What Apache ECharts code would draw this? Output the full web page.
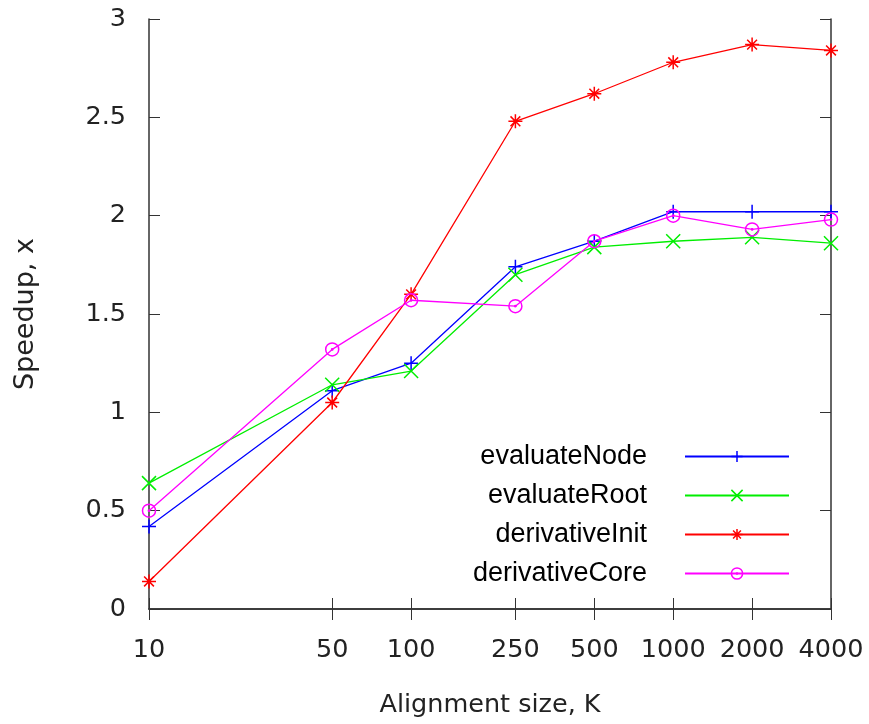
<!DOCTYPE html>
<html>
<head>
<meta charset="utf-8">
<script src="https://cdn.jsdelivr.net/npm/echarts@6/dist/echarts.min.js"></script>
<style>
  html, body { margin: 0; padding: 0; background: #fff; }
  #speedupChart { width: 869px; height: 724px; }
</style>
</head>
<body>
<div id="speedupChart"></div>
<script>
(function () {
  'use strict';

  // alignment sizes, K
  var sizes = [10, 50, 100, 250, 500, 1000, 2000, 4000];
  var yTicks = [0, 0.5, 1, 1.5, 2, 2.5, 3];

  var evaluateNode   = [0.42, 1.11, 1.25, 1.74, 1.87, 2.02, 2.02, 2.02];
  var evaluateRoot   = [0.64, 1.14, 1.21, 1.70, 1.84, 1.87, 1.89, 1.86];
  var derivativeInit = [0.14, 1.05, 1.60, 2.48, 2.62, 2.78, 2.87, 2.84];
  var derivativeCore = [0.50, 1.32, 1.57, 1.54, 1.87, 2.00, 1.93, 1.98];

  var FONT = 'DejaVu Sans';
  var AXIS_COLOR = '#333';

  // gnuplot style point types
  var PT_PLUS = 'path://M0,6H12M6,0V12';
  var PT_CROSS = 'path://M0,0L12,12M12,0L0,12';
  var PT_STAR = 'path://M0,6H12M6,0V12M1.8,1.8L10.2,10.2M10.2,1.8L1.8,10.2';
  var PT_CIRCLE = 'path://M12,6A6,6,0,1,1,0,6A6,6,0,1,1,12,6ZM6.6,6A0.6,0.6,0,1,1,5.4,6A0.6,0.6,0,1,1,6.6,6Z';

  function pairs(values) {
    return sizes.map(function (s, i) { return [s, values[i]]; });
  }

  function makeSeries(name, values, color, symbol, size) {
    return {
      name: name,
      type: 'line',
      data: pairs(values),
      symbol: symbol,
      symbolSize: size,
      showAllSymbol: true,
      lineStyle: {color: color, width: 1.3},
      itemStyle: {color: 'rgba(0,0,0,0)', borderColor: color, borderWidth: 1.5},
      emphasis: {disabled: true}
    };
  }

  var xTickStyle = {show: true, inside: true, length: 11, customValues: sizes,
    lineStyle: {color: AXIS_COLOR, width: 1}};
  var yTickStyle = {show: true, inside: true, length: 11,
    lineStyle: {color: AXIS_COLOR, width: 1}};

  var chart = echarts.init(document.getElementById('speedupChart'));

  var option = {
    animation: false,
    grid: {left: 149, right: 38, top: 19, bottom: 115},
    legend: {
      orient: 'vertical',
      align: 'right',
      right: 79,
      top: 443,
      padding: 0,
      itemWidth: 104,
      itemHeight: 14,
      itemGap: 12,
      itemStyle: {borderWidth: 1.5},
      formatter: function (name) { return '{t|' + name + '}'; },
      textStyle: {
        rich: {
          t: {fontFamily: 'Liberation Sans', fontSize: 27, lineHeight: 27,
            color: '#000', padding: [0, 33, 0, 0]}
        }
      },
      data: ['evaluateNode', 'evaluateRoot', 'derivativeInit', 'derivativeCore']
    },
    xAxis: [
      {
        type: 'log',
        logBase: 10,
        min: 10,
        max: 4000,
        name: 'Alignment size, K',
        nameLocation: 'middle',
        nameGap: 83,
        nameTextStyle: {fontFamily: FONT, fontSize: 25.5, color: '#222'},
        axisLine: {show: true, lineStyle: {color: AXIS_COLOR, width: 1.5}},
        axisTick: xTickStyle,
        minorTick: {show: false},
        splitLine: {show: false},
        axisLabel: {
          customValues: sizes,
          margin: 28,
          fontFamily: FONT,
          fontSize: 25.5,
          color: '#222',
          formatter: function (v) { return String(Math.round(v)); }
        }
      },
      {
        type: 'log',
        logBase: 10,
        min: 10,
        max: 4000,
        position: 'top',
        axisLine: {show: true, lineStyle: {color: AXIS_COLOR, width: 1.5}},
        axisTick: xTickStyle,
        splitLine: {show: false},
        axisLabel: {show: false}
      }
    ],
    yAxis: [
      {
        type: 'value',
        min: 0,
        max: 3,
        interval: 0.5,
        name: 'Speedup, x',
        nameLocation: 'middle',
        nameGap: 110,
        nameTextStyle: {fontFamily: FONT, fontSize: 27, color: '#222'},
        axisLine: {show: true, lineStyle: {color: AXIS_COLOR, width: 1.5}},
        axisTick: yTickStyle,
        splitLine: {show: false},
        axisLabel: {
          margin: 23,
          fontFamily: FONT,
          fontSize: 25.5,
          color: '#222',
          formatter: function (v) { return yTicks.indexOf(v) >= 0 ? String(v) : ''; }
        }
      },
      {
        type: 'value',
        min: 0,
        max: 3,
        interval: 0.5,
        position: 'right',
        axisLine: {show: true, lineStyle: {color: AXIS_COLOR, width: 1.5}},
        axisTick: yTickStyle,
        splitLine: {show: false},
        axisLabel: {show: false}
      }
    ],
    series: [
      makeSeries('evaluateNode', evaluateNode, '#0000ff', PT_PLUS, 14),
      makeSeries('evaluateRoot', evaluateRoot, '#00ee00', PT_CROSS, 14),
      makeSeries('derivativeInit', derivativeInit, '#ff0000', PT_STAR, 14),
      makeSeries('derivativeCore', derivativeCore, '#ff00ff', PT_CIRCLE, 13)
    ]
  };

  chart.setOption(option);

})();
</script>
</body>
</html>
